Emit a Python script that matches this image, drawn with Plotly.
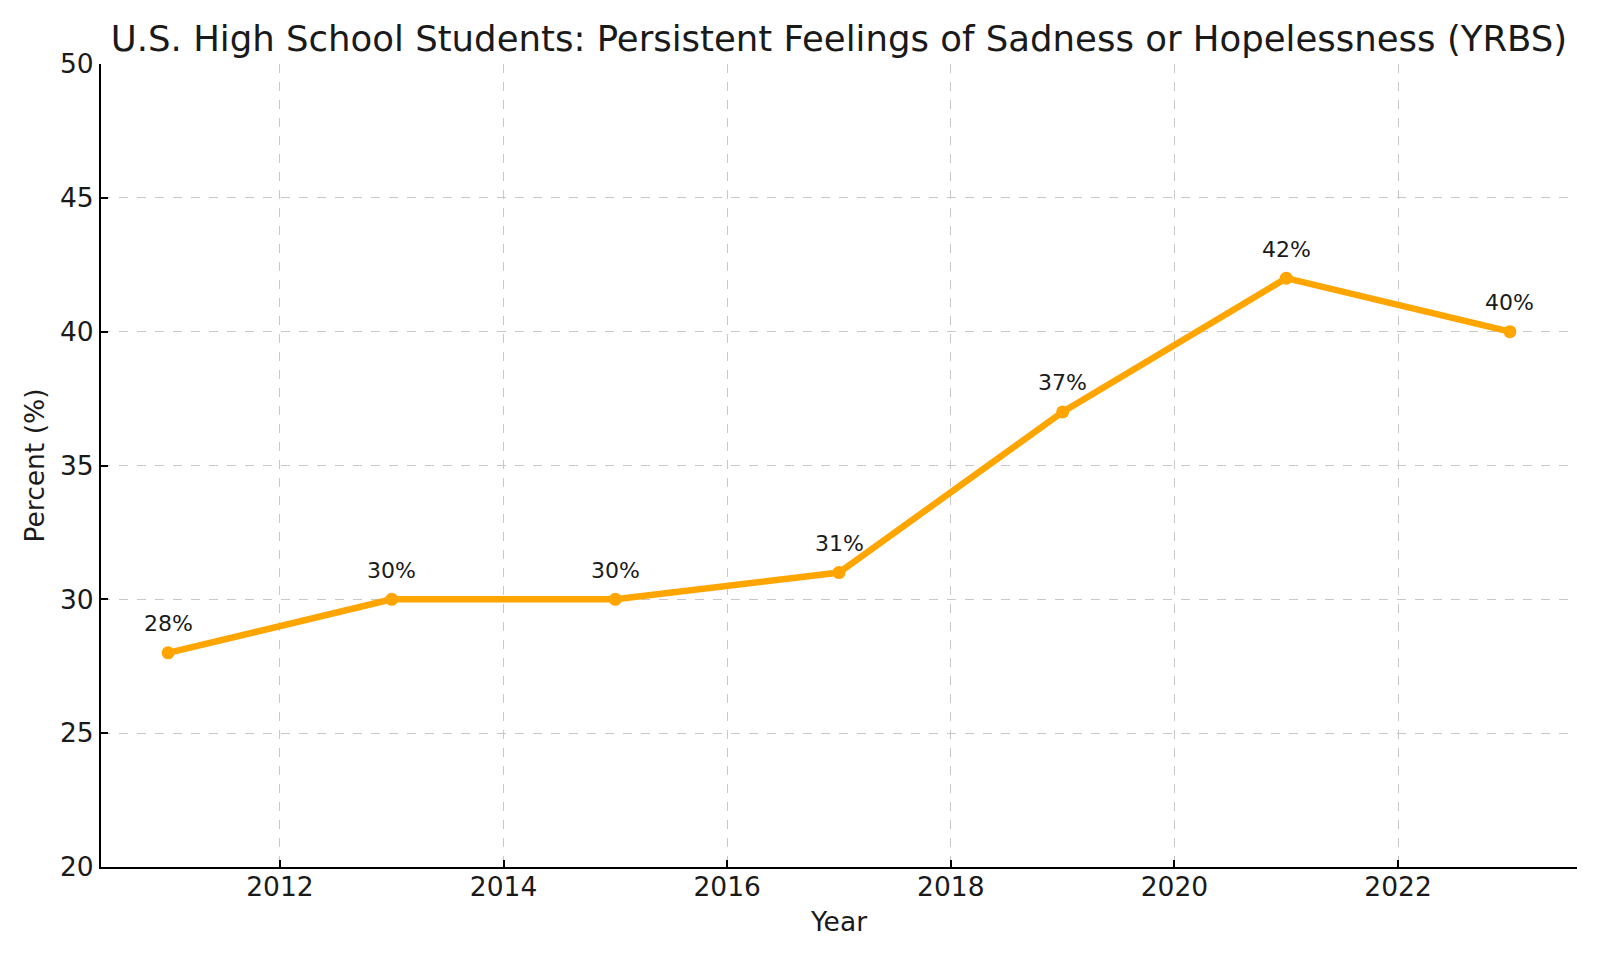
import plotly.graph_objects as go

years = [2011, 2013, 2015, 2017, 2019, 2021, 2023]
percent = [28, 30, 30, 31, 37, 42, 40]
labels = [f"{v}%" for v in percent]
x_ticks = [2012, 2014, 2016, 2018, 2020, 2022]
y_ticks = [20, 25, 30, 35, 40, 45, 50]

FONT = "DejaVu Sans"
COLOR = "#FFA500"
TXT = "#1a1a1a"

# page body has an 8px default margin; compensate
W, H = 1592, 952
L, T, R, B = 93, 56, 23, 93

fig = go.Figure()
fig.add_trace(go.Scatter(
    x=years, y=percent, mode="lines+markers",
    line=dict(color=COLOR, width=6.5),
    marker=dict(color=COLOR, size=13),
    showlegend=False,
))

for x, y, t in zip(years, percent, labels):
    fig.add_annotation(x=x, y=y, xref="x", yref="y", text=t, showarrow=False,
                       yanchor="middle", yshift=29,
                       font=dict(family=FONT, size=22, color=TXT))

grid = dict(showgrid=True, gridcolor="#c8c8c8", griddash="dash", gridwidth=1)
axis_common = dict(showline=True, linecolor="black", linewidth=2, mirror=False,
                   ticks="inside", ticklen=7, tickcolor="black", tickwidth=1.5,
                   tickfont=dict(family=FONT, size=26.5, color=TXT),
                   zeroline=False, **grid)

fig.update_layout(
    width=W, height=H,
    paper_bgcolor="white", plot_bgcolor="white",
    margin=dict(l=L, r=R, t=T, b=B),
    font=dict(family=FONT, color=TXT),
    title=dict(text="U.S. High School Students: Persistent Feelings of Sadness or Hopelessness (YRBS)",
               x=(L + (W - R)) / 2 / W, xanchor="center", y=1 - 31 / H, yanchor="middle",
               font=dict(family=FONT, size=35.5, color=TXT)),
    xaxis=dict(range=[2010.4, 2023.6], tickvals=x_ticks, ticktext=[str(v) for v in x_ticks],
               ticklabelstandoff=-5,
               title=dict(text="Year", font=dict(family=FONT, size=26.5, color=TXT), standoff=12),
               **axis_common),
    yaxis=dict(range=[20, 50], tickvals=y_ticks, ticktext=[str(v) for v in y_ticks],
               title=dict(text="Percent (%)", font=dict(family=FONT, size=26.5, color=TXT), standoff=8),
               **axis_common),
)

fig.write_html("out.html")
